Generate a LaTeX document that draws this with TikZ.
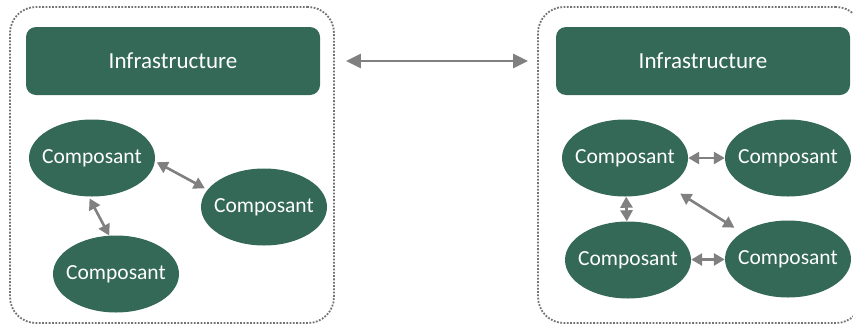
\documentclass[tikz,border=0pt]{standalone}
\usepackage{fontspec}
\setmainfont{Carlito}
\usepackage{tikz}
\usetikzlibrary{arrows.meta,positioning,shapes.geometric}
\definecolor{infragreen}{RGB}{51,105,86}
\definecolor{linkgray}{RGB}{128,128,128}
\tikzset{
  zonebox/.style={
    draw=linkgray!90!black,
    dash pattern=on 1.8pt off 1.5pt,
    line width=1.8pt,
    rounded corners=26pt,
    minimum width=324pt,
    minimum height=316pt
  },
  infrabox/.style={
    fill=infragreen,
    text=white,
    rounded corners=10pt,
    minimum width=294pt,
    minimum height=68pt,
    font=\fontsize{23}{27}\selectfont
  },
  compnode/.style={
    ellipse,
    fill=infragreen,
    text=white,
    inner xsep=-6pt,
    inner ysep=0pt,
    minimum width=126pt,
    minimum height=77pt,
    font=\fontsize{21.5}{25}\selectfont
  },
  linkarrow/.style={{Triangle[length=11pt,width=12pt]}-{Triangle[length=11pt,width=12pt]},draw=linkgray,line width=2.6pt},
  bigarrow/.style={linkarrow,{Triangle[length=15pt,width=14pt]}-{Triangle[length=15pt,width=14pt]}}
}
\begin{document}
\begin{tikzpicture}[x=1pt,y=-1pt]
\clip (0,0) rectangle (853,327);
% left side: three components
\node[zonebox] (leftzone) at (172,165) {};
\node[infrabox] (leftinfra) at (173,61) {Infrastructure};
\node[compnode] (lcompa) at (92,158) {Composant};
\node[compnode] (lcompb) at (264,207) {Composant};
\node[compnode] (lcompc) at (116,274) {Composant};
\draw[linkarrow,shorten <=2pt,shorten >=3pt] (lcompa.-3)--(lcompb.163);
\draw[linkarrow,shorten <=2pt] (lcompa.265)--(lcompc.100);
% right side: four components
\node[zonebox] (rightzone) at (700,165) {};
\node[infrabox] (rightinfra) at (703,61) {Infrastructure};
\node[compnode] (rcompa) at (625,158) {Composant};
\node[compnode] (rcompb) at (788,158) {Composant};
\node[compnode] (rcompc) at (628,260) {Composant};
\node[compnode] (rcompd) at (788,259) {Composant};
\draw[linkarrow] (rcompa)--(rcompb);
\draw[linkarrow] (rcompa)--(rcompc);
\draw[linkarrow] (rcompc)--(rcompd);
\draw[linkarrow,shorten <=14pt,shorten >=9pt] (rcompa.-33)--(rcompd.150);
% between the two
\draw[bigarrow,shorten <=11pt,shorten >=9pt] (leftinfra.east -| leftzone.east)--(rightinfra.west -| rightzone.west);
\end{tikzpicture}
\end{document}
